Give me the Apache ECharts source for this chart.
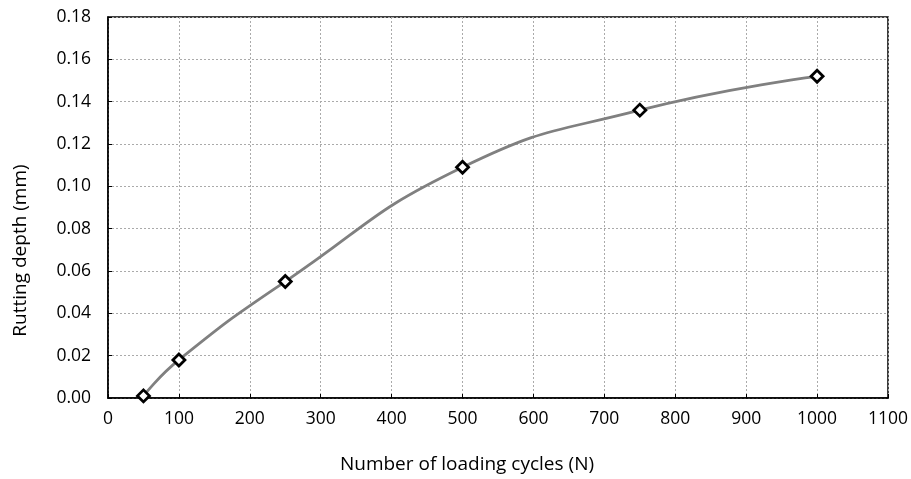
<!DOCTYPE html>
<html><head><meta charset="utf-8">
<script src="https://cdn.jsdelivr.net/npm/echarts@6/dist/echarts.min.js"></script>
<style>html,body{margin:0;padding:0;background:#fff}#c{width:911px;height:479px}</style>
</head><body><div id="c"></div>
<script>
const cycles = [50, 100, 250, 500, 750, 1000];
const rutDepth = [0.001, 0.018, 0.055, 0.109, 0.136, 0.152];
const xTitle = 'Number of loading cycles (N)';
const yTitle = 'Rutting depth (mm)';
const FONT = '"Open Sans", "Liberation Sans", sans-serif';
const chart = echarts.init(document.getElementById('c'));
chart.setOption({
  animation: false,
  grid: {left: 108, right: 21, top: 17, bottom: 80, show: true, borderColor: '#000', borderWidth: 1.5},
  xAxis: {
    type: 'value', min: 0, max: 1100, interval: 100,
    name: xTitle, nameLocation: 'middle', nameGap: 57,
    nameTextStyle: {fontFamily: FONT, fontSize: 19, color: '#000', padding: [0, 62, 0, 0]},
    axisLine: {show: true, lineStyle: {color: '#000', width: 1.5}},
    axisTick: {show: true, inside: true, length: 4, lineStyle: {color: '#000'}},
    axisLabel: {fontFamily: FONT, fontSize: 17.5, color: '#000', margin: 12, formatter: v => String(v)},
    splitLine: {show: true, lineStyle: {color: '#aaa', type: [2, 2], width: 1}}
  },
  yAxis: {
    type: 'value', min: 0, max: 0.18, interval: 0.02,
    name: yTitle, nameLocation: 'middle', nameGap: 78, nameRotate: 90,
    nameTextStyle: {fontFamily: FONT, fontSize: 19, color: '#000', padding: [0, 86, 0, 0]},
    axisLine: {show: true, lineStyle: {color: '#000', width: 1.5}},
    axisTick: {show: true, inside: true, length: 4, lineStyle: {color: '#000'}},
    axisLabel: {fontFamily: FONT, fontSize: 17.5, color: '#000', margin: 17, formatter: v => v.toFixed(2)},
    splitLine: {show: true, lineStyle: {color: '#aaa', type: [2, 2], width: 1}}
  },
  series: [{
    type: 'line',
    data: cycles.map((c, i) => [c, rutDepth[i]]),
    smooth: 0.5,
    lineStyle: {color: '#808080', width: 2.8},
    symbol: 'diamond', symbolSize: 12,
    itemStyle: {color: '#fff', borderColor: '#000', borderWidth: 2.8}
  }]
});
</script></body></html>
